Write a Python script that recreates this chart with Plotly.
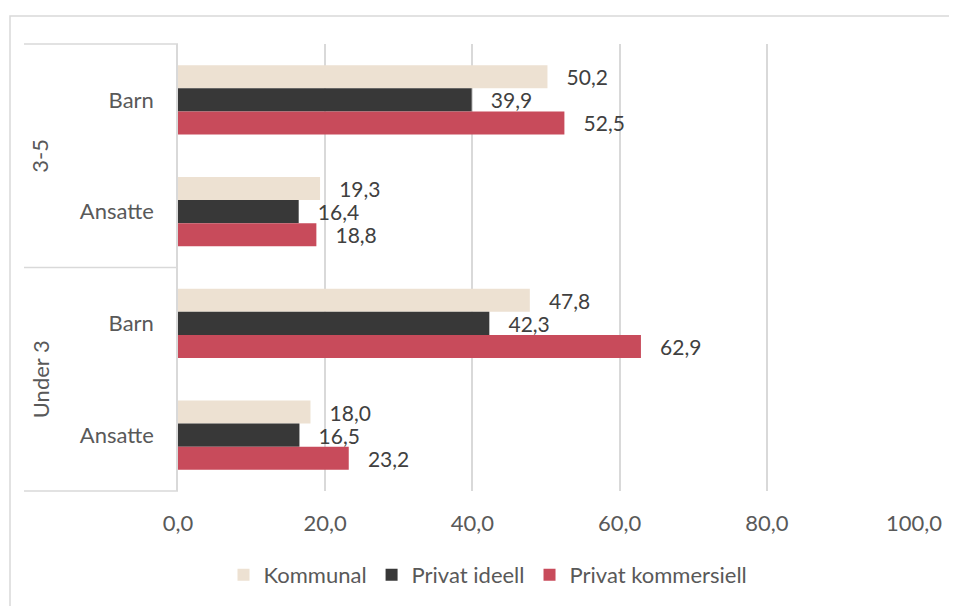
import plotly.graph_objects as go

groups = ["3-5", "3-5", "Under 3", "Under 3"]
subcats = ["Barn", "Ansatte", "Barn", "Ansatte"]
keys = [g + " " + s for g, s in zip(groups, subcats)]

series_names = ["Kommunal", "Privat ideell", "Privat kommersiell"]
kommunal = [50.2, 19.3, 47.8, 18.0]
privat_ideell = [39.9, 16.4, 42.3, 16.5]
privat_kommersiell = [52.5, 18.8, 62.9, 23.2]
colors = ["#EDE1D2", "#383838", "#C84B5B"]

x_ticks = [0, 20, 40, 60, 80, 100]

FONT = "Lato"
FS = 22
LFS = 21
OFF = 8  # page body margin
W, H = 957, 606
L, R, T, B = 178 - OFF, 914 - OFF, 44 - OFF, 491 - OFF
pw, ph = R - L, B - T

def px_x(x):
    return (x - OFF - L) / pw

def px_y(y):
    return 1 - (y - OFF - T) / ph

fig = go.Figure()
for name, vals, col in zip(series_names, [kommunal, privat_ideell, privat_kommersiell], colors):
    fig.add_trace(go.Bar(
        y=keys, x=vals, name=name, orientation="h",
        marker=dict(color=col, line=dict(width=0)),
        texttemplate="\u00a0\u00a0\u00a0%{x:.1f}", textposition="outside",
        constraintext="none",
        textfont=dict(family=FONT, size=LFS, color="#404040"),
        cliponaxis=False,
    ))

shapes = []
# outer chart border (top and left visible)
shapes.append(dict(type="rect", xref="paper", yref="paper",
                   x0=px_x(10), x1=px_x(1100), y0=px_y(800), y1=px_y(16),
                   line=dict(color="#D9D9D9", width=1.5), layer="below"))
# category dividers
for yp in [44, (44 + 491) / 2, 491]:
    shapes.append(dict(type="line", xref="paper", yref="paper",
                       x0=px_x(24), x1=0, y0=px_y(yp), y1=px_y(yp),
                       line=dict(color="#D9D9D9", width=1.5)))

annotations = []
for g, yc in [("3-5", 0.75), ("Under 3", 0.25)]:
    annotations.append(dict(text=g, xref="paper", yref="paper", x=px_x(40), y=yc,
                            textangle=-90, showarrow=False, xanchor="center", yanchor="middle",
                            font=dict(family=FONT, size=FS, color="#595959")))

fig.update_layout(
    width=W, height=H,
    margin=dict(l=L, r=W - R, t=T, b=H - B),
    paper_bgcolor="white", plot_bgcolor="white",
    barmode="group", bargap=0.38, bargroupgap=0,
    separators=", ",
    font=dict(family=FONT, size=FS, color="#595959"),
    xaxis=dict(range=[0, 100], tickvals=x_ticks, tickformat=".1f",
               showgrid=True, gridcolor="#D9D9D9", gridwidth=1.5,
               zeroline=False, showline=False, ticks="",
               ticklabelstandoff=17,
               tickfont=dict(family=FONT, size=FS, color="#595959")),
    yaxis=dict(type="category", categoryorder="array", categoryarray=keys,
               autorange="reversed", tickvals=keys, ticktext=subcats,
               showgrid=False, zeroline=False, showline=True,
               linecolor="#D9D9D9", linewidth=1.5, ticks="",
               ticklabelstandoff=18,
               tickfont=dict(family=FONT, size=FS, color="#595959")),
    legend=dict(orientation="h", xref="container", yref="container",
                x=(488 - OFF) / W, y=1 - (575 - OFF) / H, xanchor="center", yanchor="middle",
                font=dict(family=FONT, size=FS, color="#595959"),
                itemwidth=30, tracegroupgap=0),
    shapes=shapes, annotations=annotations,
    showlegend=True,
)

fig.write_html("out.html")
